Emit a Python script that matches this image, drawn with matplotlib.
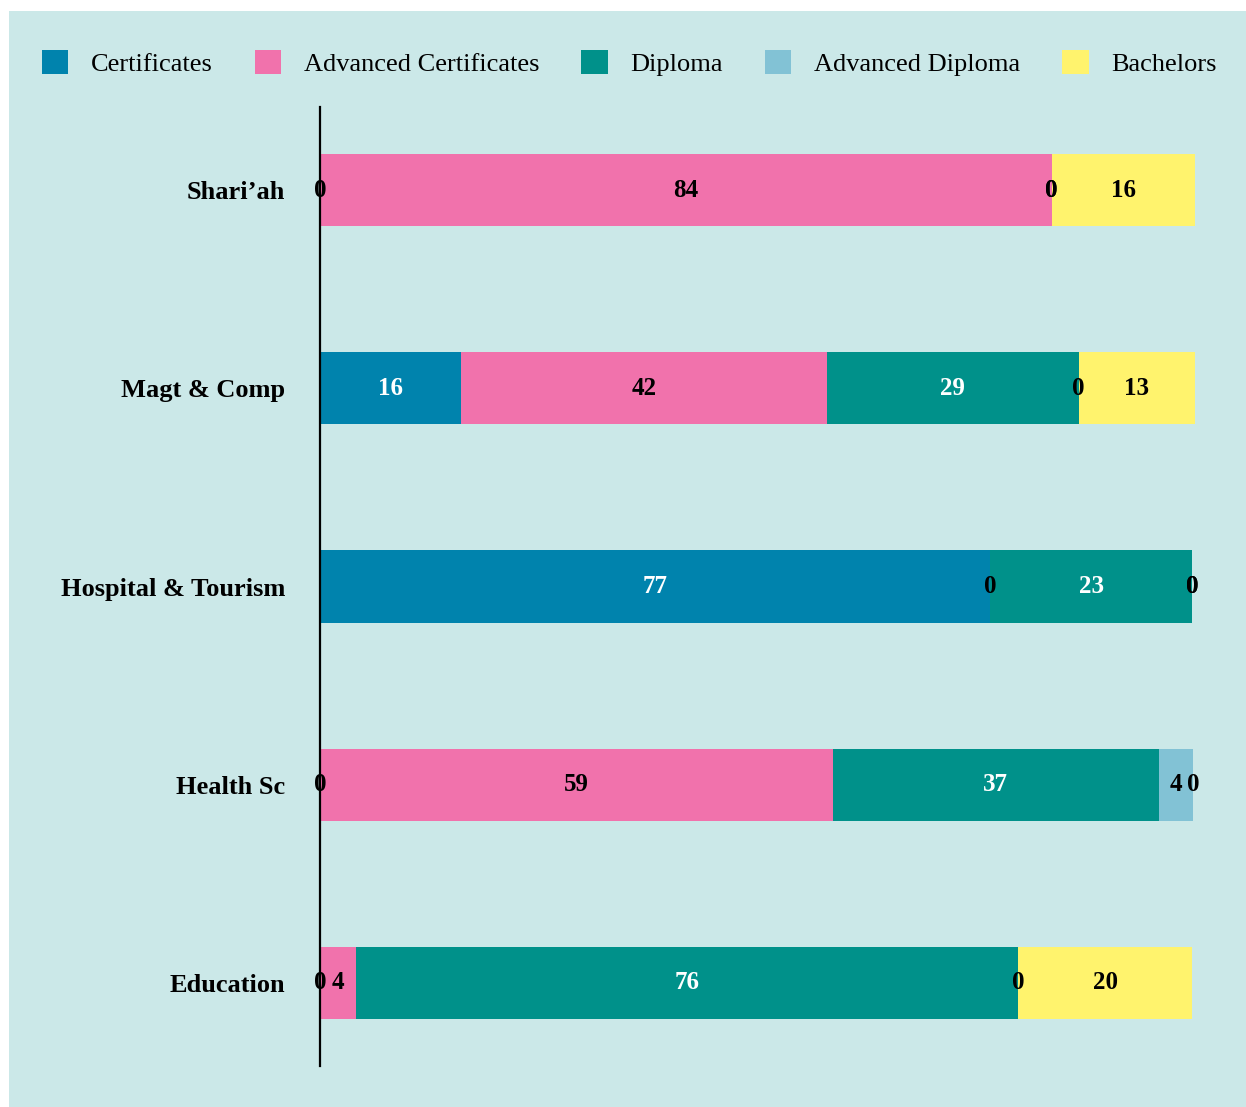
import numpy as np
import matplotlib.pyplot as plt
from matplotlib.patches import Rectangle, Patch

# 数据
categories = ["Shari\u2019ah", "Magt & Comp", "Hospital & Tourism", "Health Sc", "Education"]
series = ["Certificates", "Advanced Certificates", "Diploma", "Advanced Diploma", "Bachelors"]
certificates = [0, 16.1, 76.6, 0, 0]
adv_certificates = [83.6, 41.8, 0, 58.6, 4.1]
diploma = [0, 28.8, 23.1, 37.3, 75.7]
adv_diploma = [0, 0, 0, 3.9, 0]
bachelors = [16.4, 13.3, 0, 0, 19.9]

colors = ["#0083ad", "#f172ac", "#00918a", "#82c2d5", "#fff36d"]
text_colors = ["white", "black", "white", "black", "black"]
bg = "#cbe8e8"

plt.rcParams['font.family'] = ['Liberation Serif', 'DejaVu Serif']

W, H = 1246, 1107
fig = plt.figure(figsize=(W / 100, H / 100), dpi=100)
fig.patch.set_facecolor("white")
fig.patches.append(Rectangle((9 / W, 0), 1 - 9 / W, 1 - 11 / H,
                             transform=fig.transFigure, facecolor=bg,
                             edgecolor="none", zorder=-10))

ax = fig.add_axes([320 / W, (H - 1066) / H, (1195 - 320) / W, (1066 - 107) / H])
ax.set_facecolor("none")

data = [certificates, adv_certificates, diploma, adv_diploma, bachelors]
y = np.arange(len(categories))
left = np.zeros(len(categories))
for k, vals in enumerate(data):
    vals = np.array(vals)
    ax.barh(y, vals, left=left, height=0.364, color=colors[k], label=series[k])
    # 标注数值
    for i, v in enumerate(vals):
        col = text_colors[k] if v > 0 else "black"
        ax.text(left[i] + v / 2, y[i], "%.0f" % v, ha="center", va="center",
                fontsize=18, fontweight="bold", color=col)
    left += vals

ax.set_xlim(0, 100)
ax.set_ylim(4.42, -0.42)
ax.set_yticks(y)
ax.set_yticklabels(categories, fontsize=19, fontweight="bold")
ax.tick_params(axis="y", length=0, pad=25)
ax.set_xticks([])
for s in ["top", "right", "bottom"]:
    ax.spines[s].set_visible(False)
ax.spines["left"].set_linewidth(1.6)
ax.spines["left"].set_color("black")

handles = [Patch(facecolor=c, edgecolor="none") for c in colors]
fig.legend(handles, series, loc="center", bbox_to_anchor=(0.505, 1 - 63 / H),
           ncol=5, frameon=False, fontsize=19, handlelength=1.0, handleheight=1.0,
           handletextpad=0.85, columnspacing=1.6)

fig.savefig("out.png", dpi=100, facecolor="white")
